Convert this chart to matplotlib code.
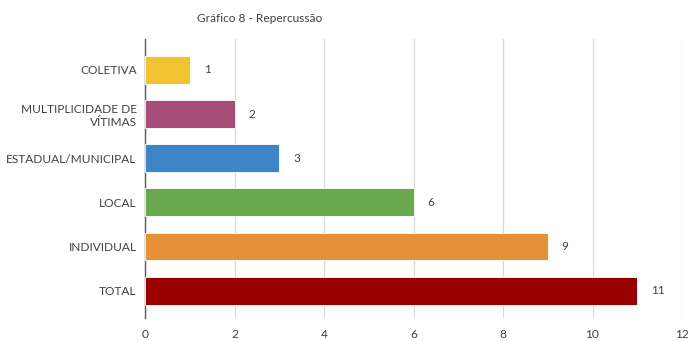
import matplotlib.pyplot as plt

categorias = ['COLETIVA', 'MULTIPLICIDADE DE\nVÍTIMAS', 'ESTADUAL/MUNICIPAL', 'LOCAL', 'INDIVIDUAL', 'TOTAL']
valores = [1, 2, 3, 6, 9, 11]
cores = ['#F1C232', '#A64D79', '#3D85C6', '#6AA84F', '#E69138', '#990000']
ticks_x = [0, 2, 4, 6, 8, 10, 12]

plt.rcParams['font.family'] = ['Lato', 'DejaVu Sans']

fig = plt.figure(figsize=(6.88, 3.41), dpi=100)
ax = fig.add_axes([145/688, 1 - 318/341, 537/688, 279/341])

pos = list(range(len(categorias)))
barras = ax.barh(pos, valores, height=0.63, color=cores, edgecolor='white', linewidth=0.6, zorder=3)
for b, v in zip(barras, valores):
    ax.annotate(str(v), (b.get_width(), b.get_y() + b.get_height()/2), xytext=(10, 0),
                textcoords='offset points', va='center', ha='left', fontsize=8.5, color='#404040')

ax.set_xlim(0, 12)
ax.set_ylim(5.62, -0.7)
ax.set_xticks(ticks_x)
ax.set_yticks(pos)
ax.set_yticklabels(categorias, fontsize=8.6, color='#404040', linespacing=1.2)
ax.tick_params(axis='x', labelsize=8.6, colors='#404040', length=0, pad=8)
ax.tick_params(axis='y', length=0, pad=6)
ax.grid(axis='x', color='#D9D9D9', linewidth=0.9, zorder=0)
for s in ['top', 'right', 'bottom']:
    ax.spines[s].set_visible(False)
ax.spines['left'].set_color('#595959')
ax.spines['left'].set_linewidth(1.0)

fig.suptitle('Gráfico 8 - Repercussão', x=260/688, y=1 - 19/341, va='center', fontsize=8.6, color='#404040')

fig.savefig('out.png', dpi=100)
